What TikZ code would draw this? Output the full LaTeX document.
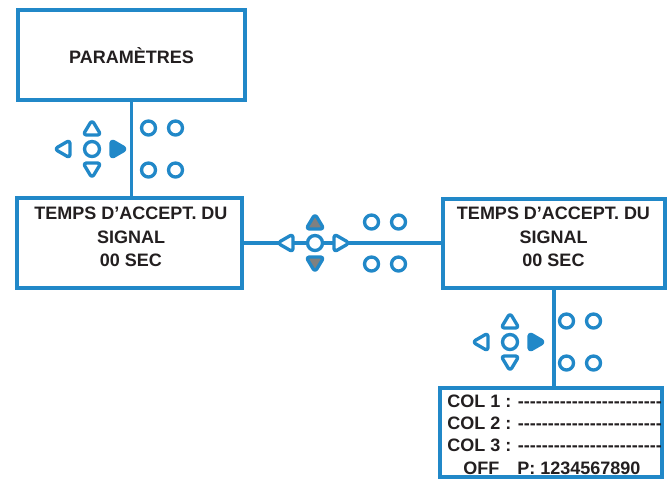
\documentclass[tikz,border=0pt]{standalone}
\usepackage{fontspec}
\setmainfont{Liberation Sans}
\definecolor{kblue}{RGB}{33,136,200}
\definecolor{ktext}{RGB}{35,31,32}
\definecolor{kgray}{RGB}{128,128,128}
\tikzset{
  box/.style={draw=kblue, line width=2.6pt, inner sep=0pt, fill=white},
  conn/.style={draw=kblue, line width=2.6pt},
  lbl/.style={font=\fontsize{13.5}{16}\selectfont\bfseries, text=ktext, inner sep=0pt, anchor=base},
  lbll/.style={lbl, anchor=base west},
  key/.style={draw=kblue, line width=2.5pt, fill=white, rounded corners=2.5pt, line join=round},
}
\newcommand\dashrow{\foreach\i in {1,...,24}{-}}
\newcommand\keypad[4]{%
  \begin{scope}[shift={(#1,#2)}]
    \draw[key, fill=#4] (-9,-14) -- (9,-14) -- (0,-29) -- cycle;
    \draw[key, fill=#4] (-9,14) -- (9,14) -- (0,29) -- cycle;
    \draw[key] (-37.5,0) -- (-22,-9) -- (-22,9) -- cycle;
    \draw[key, fill=#3] (34.5,0) -- (19,-9) -- (19,9) -- cycle;
    \draw[key] (0,0) circle[radius=7.5];
    \foreach \dx in {56.5,83.5} \foreach \dy in {-21,21}
      \draw[key] (\dx,\dy) circle[radius=7];
  \end{scope}}
\begin{document}
\begin{tikzpicture}[x=0.75pt, y=-0.75pt]
  \useasboundingbox (0,0) rectangle (667,479);
  % boxes
  \node[box, minimum width=170.25pt, minimum height=67.5pt] (b1) at (131.5,55) {};
  \node[box, minimum width=168.75pt, minimum height=67.5pt] (b2) at (129.5,243) {};
  \node[box, minimum width=166.5pt, minimum height=66.75pt] (b3) at (554,243.5) {};
  \node[box, minimum width=166.5pt, minimum height=66.75pt] (b4) at (551,432.5) {};
  % connectors
  \draw[conn] (b1.south) -- (b1.south |- b2.north);
  \draw[conn] (b2.east) -- (b2.east -| b3.west);
  \draw[conn] (b3.south) -- (b3.south |- b4.north);
  % keypads
  \keypad{92}{149}{kblue}{white}
  \keypad{315}{243}{white}{kgray}
  \keypad{510}{342}{kblue}{white}
  % texts
  \node[lbl] (t1) at (131.5,63.5) {PARAMÈTRES};
  \node[lbl] (t2a) at (131,219.5) {TEMPS D’ACCEPT. DU};
  \node[lbl] (t2b) at (131,243) {SIGNAL};
  \node[lbl] (t2c) at (131,266.5) {00 SEC};
  \node[lbl] (t3a) at (553.5,219.5) {TEMPS D’ACCEPT. DU};
  \node[lbl] (t3b) at (553.5,243) {SIGNAL};
  \node[lbl] (t3c) at (553.5,266.5) {00 SEC};
  \node[lbll] (t4a) at (447,407.5) {COL 1 : \dashrow};
  \node[lbll] (t4b) at (447,429.5) {COL 2 : \dashrow};
  \node[lbll] (t4c) at (447,451.5) {COL 3 : \dashrow};
  \node[lbll] (t4d) at (463,474.5) {OFF\hspace{13.5pt}P: 1234567890};
\end{tikzpicture}
\end{document}
